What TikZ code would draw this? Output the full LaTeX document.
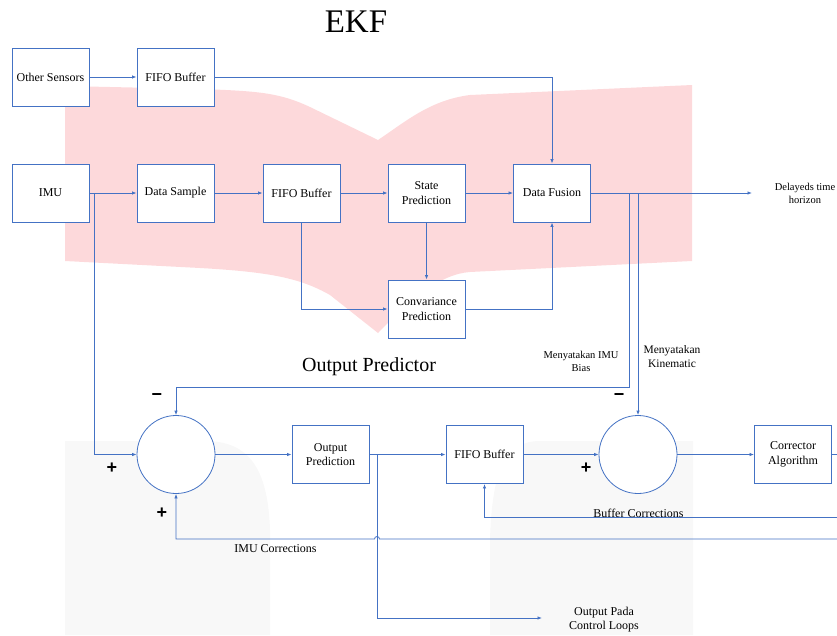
\documentclass[tikz,border=0pt]{standalone}
\usepackage{fontspec}
\setmainfont{Liberation Serif}
\newfontfamily\signfont{Liberation Sans}
\usetikzlibrary{arrows.meta}
\definecolor{lblue}{RGB}{68,114,196}
\definecolor{pinkbg}{RGB}{253,217,219}
\definecolor{graybg}{RGB}{248,248,248}
\tikzset{
  blk/.style={draw=lblue, line width=0.9pt, fill=white, minimum width=77pt, minimum height=58pt, inner sep=1pt, align=center, font=\fontsize{12}{14.5}\selectfont},
  sumc/.style={draw=lblue, line width=0.8pt, fill=white, circle, minimum size=78pt, inner sep=0pt},
  conn/.style={draw=lblue, line width=0.8pt},
  arr/.style={conn, -{Latex[length=4.5pt,width=3.5pt]}},
  lbl/.style={align=center, inner sep=0pt, font=\fontsize{12}{14.5}\selectfont},
  sgn/.style={inner sep=0pt, font=\signfont\bfseries\fontsize{18}{18}\selectfont},
}
\begin{document}
\begin{tikzpicture}[x=1pt,y=-1pt]
\useasboundingbox (0,0) rectangle (837,635);
% backgrounds
\fill[pinkbg] (65,86) -- (200,89) .. controls (260,91) and (280,93) .. (310,107) -- (378,140)
  .. controls (405,122) and (430,100) .. (470,95) -- (692,85) -- (692,261) -- (470,272)
  .. controls (440,274) and (410,300) .. (378,333) -- (330,295)
  .. controls (300,278) and (270,272) .. (200,268) -- (65,261) -- cycle;
\fill[graybg] (65,635) -- (65,441) -- (205,441) .. controls (250,441) and (268,470) .. (270,530) -- (270,635) -- cycle;
\fill[graybg] (490,635) -- (490,540) .. controls (492,470) and (505,441) .. (540,441) -- (693,441) -- (693,635) -- cycle;
% blocks
\node[blk] (os) at (50.5,77) {Other Sensors};
\node[blk] (f1) at (175.5,77) {FIFO Buffer};
\node[blk] (imu) at (50.5,193) {IMU};
\node[blk] (ds) at (175.5,193) {Data Sample};
\node[blk] (f2) at (301.5,193) {FIFO Buffer};
\node[blk] (sp) at (426.5,193) {State\\Prediction};
\node[blk] (df) at (552,193) {Data Fusion};
\node[blk] (cp) at (426.5,309) {Convariance\\Prediction};
\node[sumc] (c1) at (176,454.5) {};
\node[blk] (op) at (330.5,454.5) {Output\\Prediction};
\node[blk] (f3) at (484.5,454.5) {FIFO Buffer};
\node[sumc] (c2) at (638,454.5) {};
\node[blk] (ca) at (793,454.5) {Corrector\\Algorithm};
% coordinates
\coordinate (b1) at (94,193);
\coordinate (b2) at (629,193);
\coordinate (b3) at (638,193);
\coordinate (k2) at (629,387);
\coordinate (dt) at (752,193);
\coordinate (ob) at (377,454.5);
\coordinate (oe) at (542,618);
\coordinate (e0) at (837,454.5);
\coordinate (e1) at (837,539);
\coordinate (e2) at (837,517);
\coordinate (hp) at (379.5,539);
% connectors
\draw[arr] (os) -- (f1);
\draw[arr] (f1.east) -| (df.north);
\draw[arr] (imu) -- (ds);
\draw[arr] (ds) -- (f2);
\draw[arr] (f2) -- (sp);
\draw[arr] (sp) -- (df);
\draw[arr] (sp) -- (cp);
\draw[arr] (f2.south) |- (cp.west);
\draw[arr] (cp.east) -| (df.south);
\draw[arr] (df.east) -- (dt);
\draw[arr] (b1) |- (c1.west);
\draw[arr] (b2) -- (k2) -| (c1.north);
\draw[arr] (b3) -- (c2.north);
\draw[arr] (c1) -- (op);
\draw[arr] (op) -- (f3);
\draw[arr] (f3) -- (c2);
\draw[arr] (c2) -- (ca);
\draw[conn] (ca.east) -- (e0);
\draw[arr] (ob) |- (oe);
\draw[arr] (e1) -- (hp) arc[start angle=0,end angle=180,radius=2.5pt] -- (c1 |- e1) -- (c1.south);
\draw[arr] (e2) -| (f3.south);
% labels
\node[lbl, font=\fontsize{33}{33}\selectfont] (ekf) at (356,22) {EKF};
\node[lbl, font=\fontsize{20}{20}\selectfont] (opl) at (369,367) {Output Predictor};
\node[lbl, font=\fontsize{10.5}{13}\selectfont] (dtl) at (805,193) {Delayeds time\\horizon};
\node[lbl, font=\fontsize{10.5}{13}\selectfont] (mib) at (581,361) {Menyatakan IMU\\Bias};
\node[lbl, font=\fontsize{11.5}{14}\selectfont] (mk) at (672,357) {Menyatakan\\Kinematic};
\node[lbl] (imuc) at (275.5,549) {IMU Corrections};
\node[lbl] (bufc) at (638.5,513) {Buffer Corrections};
\node[lbl] (opc) at (604,619.5) {Output Pada\\Control Loops};
% signs
\node[sgn] (s1) at (157,397) {−};
\node[sgn] (s2) at (112,468) {+};
\node[sgn] (s3) at (162,513) {+};
\node[sgn] (s4) at (619,397) {−};
\node[sgn] (s5) at (586,468) {+};
\end{tikzpicture}
\end{document}
